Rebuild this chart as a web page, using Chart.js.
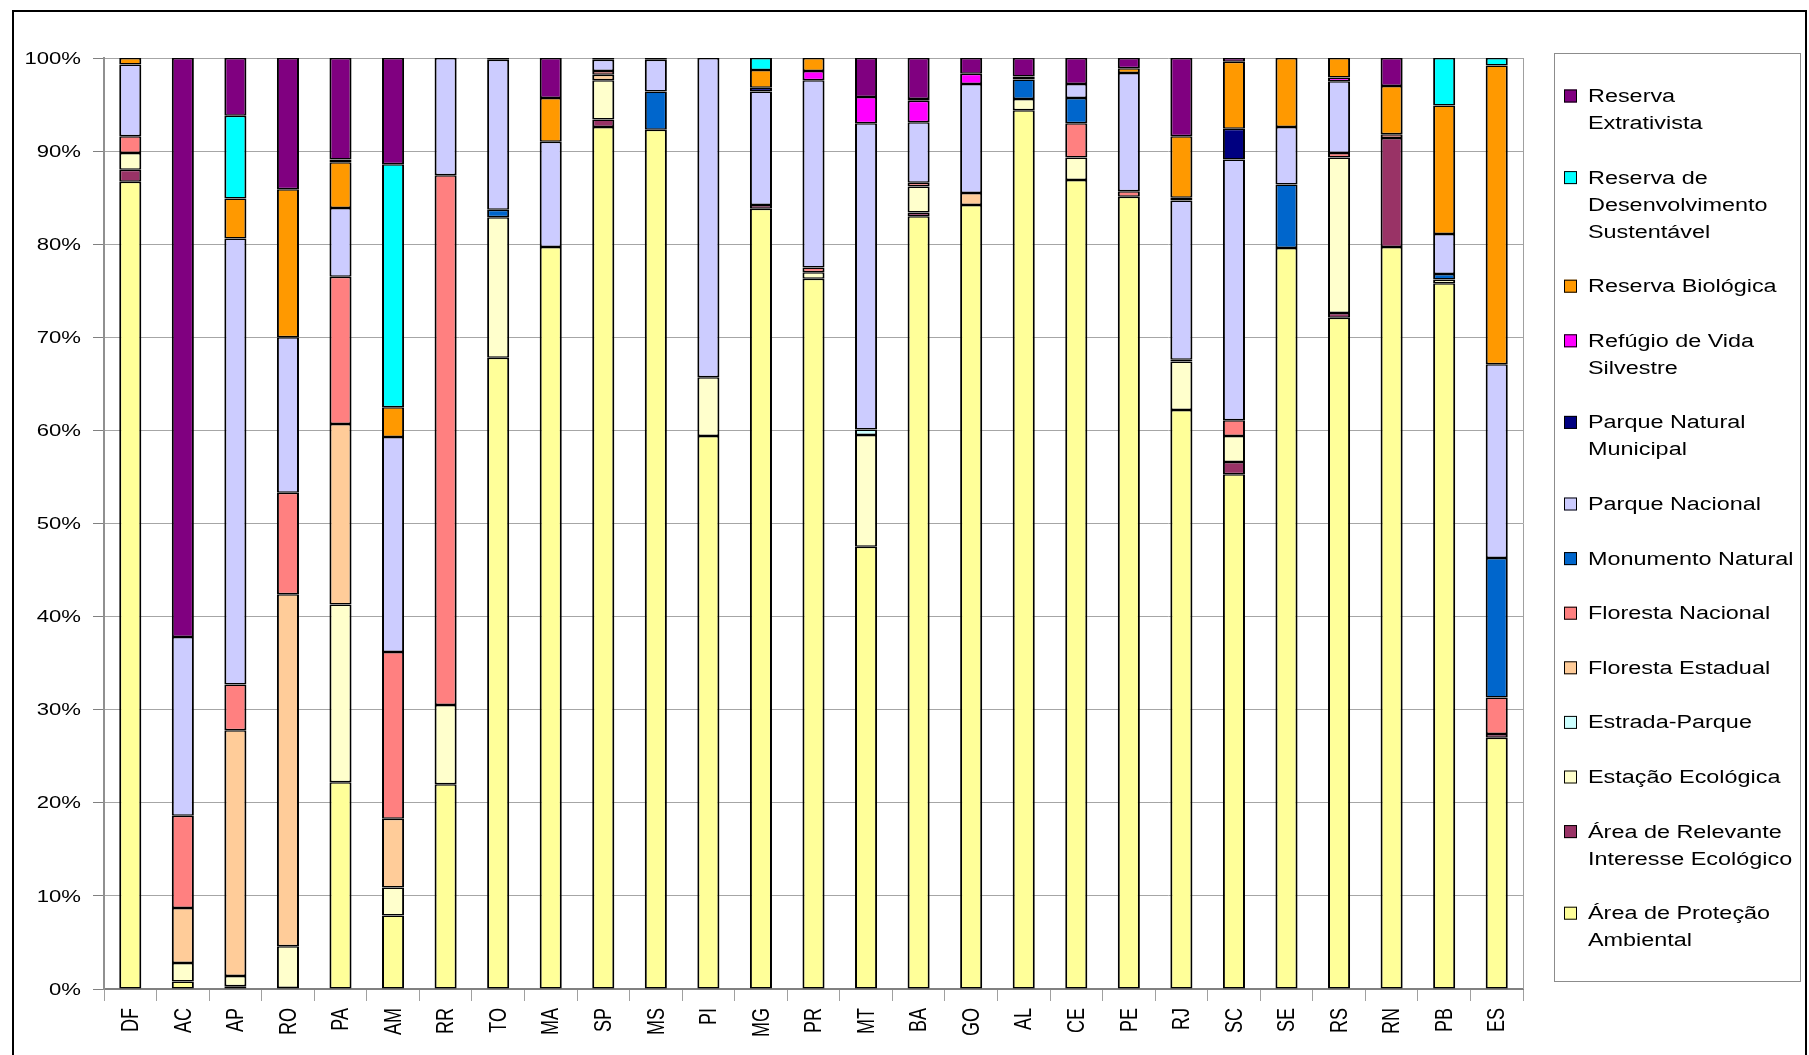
<!DOCTYPE html>
<html>
<head>
<meta charset="utf-8">
<script src="https://cdn.jsdelivr.net/npm/chart.js@4.4.1/dist/chart.umd.min.js"></script>
<style>
  html, body { margin: 0; padding: 0; background: #fff; }
</style>
</head>
<body>
<canvas id="graph" width="1809" height="1055"></canvas>
<script>
'use strict'

// estados (categorias)
const estados = ['DF', 'AC', 'AP', 'RO', 'PA', 'AM', 'RR', 'TO', 'MA', 'SP', 'MS', 'PI', 'MG', 'PR',
  'MT', 'BA', 'GO', 'AL', 'CE', 'PE', 'RJ', 'SC', 'SE', 'RS', 'RN', 'PB', 'ES'];

// % por categoria de unidade de conservacao, na ordem dos estados
const apa  = [86.7, 0.8, 0.3, 0.1, 22.2, 7.9, 22.0, 67.8, 79.7, 92.6, 92.3, 59.4, 83.8, 76.3, 47.5, 83.0, 84.2, 94.4, 86.9, 85.1, 62.2, 55.3, 79.6, 72.1, 79.7, 75.8, 27.0];
const arie = [1.3, 0, 0, 0, 0, 0, 0, 0, 0, 0.8, 0, 0, 0.4, 0, 0, 0.4, 0, 0, 0, 0, 0, 1.3, 0, 0.5, 11.7, 0, 0.4];
const esec = [1.8, 2.0, 1.1, 4.5, 19.1, 3.0, 8.5, 15.1, 0, 4.2, 0, 6.3, 0, 0.7, 12.0, 2.8, 0, 1.2, 2.4, 0, 5.2, 2.8, 0, 16.7, 0, 0.4, 0];
const estp = [0, 0, 0, 0, 0, 0, 0, 0, 0, 0, 0, 0, 0, 0, 0.6, 0, 0, 0, 0, 0, 0, 0, 0, 0, 0, 0, 0];
const flEst = [0, 5.9, 26.4, 37.8, 19.4, 7.4, 0, 0, 0, 0.6, 0, 0, 0, 0, 0, 0, 1.3, 0, 0, 0, 0, 0, 0, 0, 0, 0, 0];
const flNac = [1.8, 9.9, 4.9, 10.9, 15.8, 17.9, 56.9, 0, 0, 0.4, 0, 0, 0, 0.5, 0, 0.4, 0, 0, 3.7, 0.6, 0.2, 1.7, 0, 0.5, 0.4, 0, 3.9];
const monum = [0, 0, 0, 0, 0, 0, 0, 0.8, 0, 0, 4.1, 0, 0, 0, 0, 0, 0, 2.1, 2.7, 0, 0, 0, 6.8, 0, 0, 0.6, 15.0];
const parNac = [7.7, 19.2, 47.9, 16.7, 7.4, 23.1, 12.6, 16.1, 11.3, 1.2, 3.4, 34.3, 12.2, 20.1, 32.9, 6.5, 11.7, 0, 1.5, 12.7, 17.1, 28.0, 6.2, 7.7, 0, 4.3, 20.8];
const parMun = [0, 0, 0, 0, 0, 0, 0, 0, 0, 0, 0, 0, 0.4, 0, 0, 0, 0, 0, 0, 0, 0.3, 3.3, 0, 0, 0, 0, 0];
const refugio = [0, 0, 0, 0, 0, 0, 0, 0, 0, 0, 0, 0, 0, 1.0, 2.8, 2.3, 1.1, 0, 0, 0, 0, 0, 0, 0.4, 0, 0, 0];
const rebio = [0.7, 0, 4.3, 15.9, 4.9, 3.2, 0, 0, 4.7, 0, 0, 0, 1.9, 1.4, 0, 0.2, 0, 0.3, 0, 0.5, 6.6, 7.2, 7.4, 2.1, 5.2, 13.8, 32.1];
const rds  = [0, 0, 8.9, 0, 0.3, 26.1, 0, 0, 0, 0, 0, 0, 1.3, 0, 0, 0, 0, 0, 0, 0, 0, 0, 0, 0, 0, 5.1, 0.8];
const resex = [0, 62.2, 6.2, 14.1, 10.9, 11.4, 0, 0.2, 4.3, 0.2, 0.2, 0, 0, 0, 4.2, 4.4, 1.7, 2.0, 2.8, 1.1, 8.4, 0.4, 0, 0, 3.0, 0, 0];

// nomes das series (linhas da legenda) e cores, de baixo para cima
const series = [
  { nome: ['Área de Proteção', 'Ambiental'], cor: '#FFFF99', dados: apa },
  { nome: ['Área de Relevante', 'Interesse Ecológico'], cor: '#993366', dados: arie },
  { nome: ['Estação Ecológica'], cor: '#FFFFCC', dados: esec },
  { nome: ['Estrada-Parque'], cor: '#CCFFFF', dados: estp },
  { nome: ['Floresta Estadual'], cor: '#FFCC99', dados: flEst },
  { nome: ['Floresta Nacional'], cor: '#FF8080', dados: flNac },
  { nome: ['Monumento Natural'], cor: '#0066CC', dados: monum },
  { nome: ['Parque Nacional'], cor: '#CCCCFF', dados: parNac },
  { nome: ['Parque Natural', 'Municipal'], cor: '#000080', dados: parMun },
  { nome: ['Refúgio de Vida', 'Silvestre'], cor: '#FF00FF', dados: refugio },
  { nome: ['Reserva Biológica'], cor: '#FF9900', dados: rebio },
  { nome: ['Reserva de', 'Desenvolvimento', 'Sustentável'], cor: '#00FFFF', dados: rds },
  { nome: ['Reserva', 'Extrativista'], cor: '#800080', dados: resex }
];

const fonte = '"Liberation Sans", Arial, sans-serif';
const esticar = 1.3; // o texto do original aparece alargado na horizontal

// moldura externa e borda direita da area do grafico
const moldura = {
  id: 'moldura',
  beforeDatasetsDraw(chart) {
    const { ctx, chartArea: a } = chart;
    ctx.save();
    ctx.strokeStyle = '#a0a0a0';
    ctx.lineWidth = 1;
    ctx.beginPath();
    ctx.moveTo(a.right + 0.5, a.top);
    ctx.lineTo(a.right + 0.5, a.bottom);
    ctx.stroke();
    ctx.restore();
  },
  afterDraw(chart) {
    const ctx = chart.ctx;
    ctx.save();
    ctx.strokeStyle = '#000';
    ctx.lineWidth = 2;
    ctx.strokeRect(13, 11, 1793, 1100);
    ctx.restore();
  }
};

// rotulos dos eixos, alargados como no original
const rotulos = {
  id: 'rotulos',
  afterDraw(chart) {
    const ctx = chart.ctx;
    const sx = chart.scales.x, sy = chart.scales.y;
    ctx.save();
    ctx.fillStyle = '#000';
    ctx.font = '17px ' + fonte;
    ctx.textAlign = 'right';
    ctx.textBaseline = 'middle';
    sy.ticks.forEach(t => {
      ctx.save();
      ctx.translate(81, sy.getPixelForValue(t.value) + 1);
      ctx.scale(esticar, 1);
      ctx.fillText(t.value + '%', 0, 0);
      ctx.restore();
    });
    ctx.font = '18px ' + fonte;
    chart.data.labels.forEach((lab, i) => {
      ctx.save();
      ctx.translate(sx.getPixelForValue(i), 1008);
      ctx.rotate(-Math.PI / 2);
      ctx.scale(1, esticar);
      ctx.fillText(lab, 0, 1);
      ctx.restore();
    });
    ctx.restore();
  }
};

// legenda desenhada a mao (rotulos em varias linhas)
const legenda = {
  id: 'legenda',
  afterDraw(chart) {
    const ctx = chart.ctx;
    ctx.save();
    ctx.strokeStyle = '#8c8c8c';
    ctx.lineWidth = 1;
    ctx.strokeRect(1554.5, 53.5, 246, 928);
    ctx.font = '18px ' + fonte;
    ctx.textBaseline = 'middle';
    let y = 96;
    const itens = chart.data.datasets.slice().reverse();
    itens.forEach(ds => {
      ctx.fillStyle = ds.backgroundColor;
      ctx.fillRect(1564, y - 6.5, 13, 13);
      ctx.strokeStyle = '#000';
      ctx.strokeRect(1564.5, y - 6, 12, 12);
      ctx.fillStyle = '#000';
      ds.linhas.forEach((t, i) => {
        ctx.save();
        ctx.translate(1588, y + i * 27 + 1);
        ctx.scale(esticar, 1);
        ctx.fillText(t, 0, 0);
        ctx.restore();
      });
      y += ds.linhas.length * 27 + 27.6;
    });
    ctx.restore();
  }
};

new Chart(document.getElementById('graph'), {
  type: 'bar',
  data: {
    labels: estados,
    datasets: series.map(s => ({
      label: s.nome.join(' '),
      linhas: s.nome,
      data: s.dados.map(v => v === 0 ? null : v),
      backgroundColor: s.cor,
      borderColor: '#000',
      borderWidth: { left: 2, right: 2, top: 1.5, bottom: 1.5 },
      borderSkipped: false,
      barPercentage: 0.42,
      categoryPercentage: 1.0
    }))
  },
  options: {
    responsive: false,
    animation: false,
    layout: { padding: { left: 0, top: 58, right: 286, bottom: 0 } },
    plugins: {
      legend: { display: false },
      tooltip: { enabled: false }
    },
    scales: {
      x: {
        stacked: true,
        afterFit: s => { s.height = 66; },
        ticks: { display: false },
        grid: {
          drawOnChartArea: false,
          drawTicks: true,
          tickLength: 12,
          color: '#a0a0a0'
        },
        border: { color: '#808080', width: 2 }
      },
      y: {
        stacked: true,
        min: 0,
        max: 100,
        afterFit: s => { s.width = 104; },
        ticks: { display: false, stepSize: 10 },
        grid: {
          color: '#a6a6a6',
          tickLength: 11,
          tickColor: '#808080'
        },
        border: { color: '#909090', width: 2 }
      }
    }
  },
  plugins: [moldura, rotulos, legenda]
});
</script>
</body>
</html>
